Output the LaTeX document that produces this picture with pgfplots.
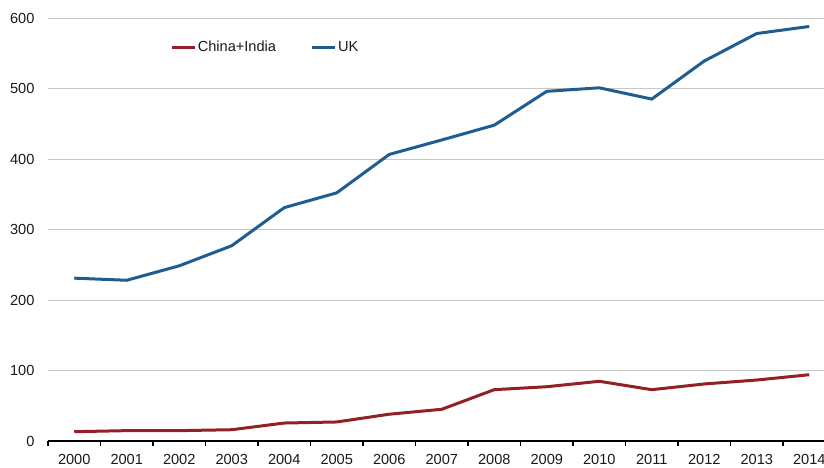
\documentclass[border=0pt]{standalone}
\usepackage{pgfplots}
\pgfplotsset{compat=1.18}
\usepackage{fontspec}
\setmainfont{Liberation Sans}
\definecolor{ukblue}{RGB}{31,93,144}
\definecolor{cired}{RGB}{146,32,36}
\definecolor{gridgray}{RGB}{200,200,200}
\definecolor{txt}{RGB}{25,25,25}
\begin{document}
\begin{tikzpicture}
\path[use as bounding box] (0,0) rectangle (824pt,467pt);
\begin{axis}[
  at={(48pt,26pt)}, anchor=south west,
  scale only axis, width=787.5pt, height=423pt,
  xmin=-0.5, xmax=14.5, ymin=0, ymax=600,
  axis x line*=bottom, axis y line*=left,
  x axis line style={black, line width=1.4pt, -},
  y axis line style={draw=none},
  ytick={0,100,...,600},
  xtick={0,...,14},
  xticklabels={2000,2001,2002,2003,2004,2005,2006,2007,2008,2009,2010,2011,2012,2013,2014},
  minor xtick={-0.5,0.5,...,14.5},
  major tick length=0pt,
  minor tick length=5pt,
  tick align=outside,
  minor tick style={black, line width=1.4pt},
  ymajorgrids,
  grid style={gridgray, line width=1pt},
  /pgf/number format/assume math mode=true,
  tick label style={font=\fontsize{14.6}{17}\selectfont, text=txt},
  y tick label style={xshift=-10pt},
  x tick label style={yshift=-10pt},
  clip=false,
  legend style={draw=none, fill=none, at={(0.155,0.931)}, anchor=west,
    inner sep=0pt, font=\fontsize{14.6}{17}\selectfont, text=txt,
    nodes={inner sep=1.5pt},
    /tikz/every even column/.append style={column sep=33pt}},
  legend columns=2,
  legend image code/.code={\draw[#1, line width=3pt] (0pt,0pt) -- (23pt,0pt);},
]
\addplot[cired, line width=3pt] coordinates {
(0,13.2) (1,14.7) (2,14.7) (3,16) (4,25.5) (5,27) (6,38) (7,45) (8,72.8)
(9,77) (10,84.7) (11,72.8) (12,80.9) (13,86.5) (14,94)};
\addlegendentry{China+India}
\addplot[ukblue, line width=3pt] coordinates {
(0,231) (1,228) (2,248.5) (3,277) (4,331) (5,352) (6,406.5) (7,427) (8,448)
(9,496) (10,501) (11,485) (12,539) (13,578) (14,588)};
\addlegendentry{UK}
\end{axis}
\end{tikzpicture}
\end{document}
